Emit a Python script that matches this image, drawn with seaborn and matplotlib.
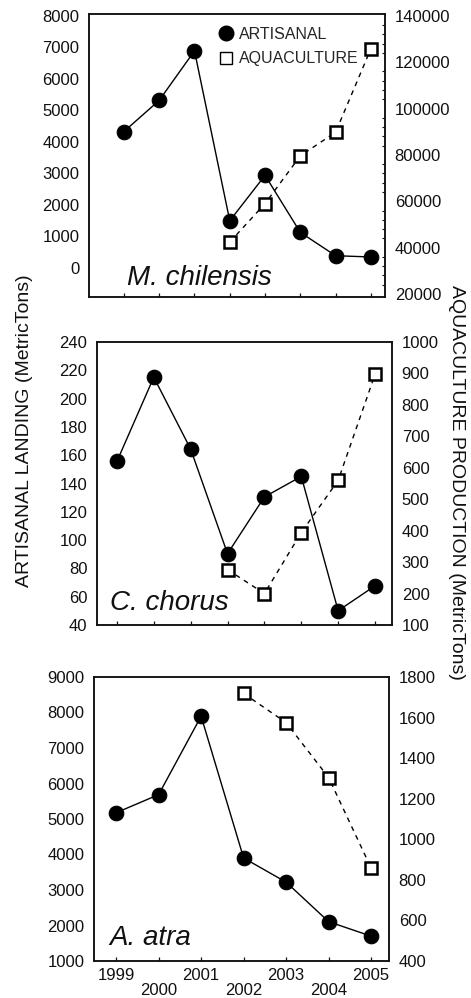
import matplotlib
matplotlib.use("Agg")
import matplotlib.pyplot as plt
import matplotlib.ticker as mticker
from matplotlib.lines import Line2D
import seaborn as sns
import pandas as pd

sns.set_theme(style="ticks")
plt.rcParams["font.family"] = ["Liberation Sans", "DejaVu Sans"]

# M. chilensis
mc_years      = [1998, 1999, 2000, 2001, 2002, 2003, 2004, 2005]
mc_artisanal  = [4330, 5320, 6890, 1500, 2940, 1130, 390, 350]
mc_aqua_years = [2001, 2002, 2003, 2004, 2005]
mc_aqua       = [42400, 59000, 79600, 89800, 125800]

# C. chorus
cc_years      = [1998, 1999, 2000, 2001, 2002, 2003, 2004, 2005]
cc_artisanal  = [155.6, 215.1, 164.3, 90.4, 130.5, 145, 50.1, 67.7]
cc_aqua_years = [2001, 2002, 2003, 2004, 2005]
cc_aqua       = [276, 200, 394, 560, 897]

# A. atra
aa_years      = [1999, 2000, 2001, 2002, 2003, 2004, 2005]
aa_artisanal  = [5176, 5686, 7895, 3901, 3221, 2107, 1700]
aa_aqua_years = [2002, 2003, 2004, 2005]
aa_aqua       = [1719, 1575, 1304, 858]

panels = [
    dict(name="M. chilensis", years=mc_years, art=mc_artisanal, ayears=mc_aqua_years, aqua=mc_aqua,
         pos=[89, 14, 385, 297], xlim=(1997.01, 2005.40),
         ylim=(-920, 8060), yticks=range(0, 8001, 1000),
         y2lim=(18700, 140800), y2ticks=range(20000, 140001, 20000),
         label_xy=(0.128, 0.042), legend=True, minor=True),
    dict(name="C. chorus", years=cc_years, art=cc_artisanal, ayears=cc_aqua_years, aqua=cc_aqua,
         pos=[97, 342, 392, 625], xlim=(1997.46, 2005.46),
         ylim=(40, 240), yticks=range(40, 241, 20),
         y2lim=(100, 1000), y2ticks=range(100, 1001, 100),
         label_xy=(0.044, 0.053), legend=False, minor=False),
    dict(name="A. atra", years=aa_years, art=aa_artisanal, ayears=aa_aqua_years, aqua=aa_aqua,
         pos=[94, 677, 389, 961], xlim=(1998.48, 2005.42),
         ylim=(1000, 9000), yticks=range(1000, 9001, 1000),
         y2lim=(400, 1800), y2ticks=range(400, 1801, 200),
         label_xy=(0.051, 0.056), legend=False, minor=False),
]

W, H = 471, 998
fig = plt.figure(figsize=(W / 100, H / 100), dpi=100)

for i, p in enumerate(panels):
    l, t, r, b = p["pos"]
    ax = fig.add_axes([l / W, 1 - b / H, (r - l) / W, (b - t) / H])
    ax2 = ax.twinx()

    art = pd.DataFrame({"year": p["years"], "value": p["art"]})
    aq = pd.DataFrame({"year": p["ayears"], "value": p["aqua"]})

    sns.lineplot(data=art, x="year", y="value", ax=ax, color="black", linewidth=1.0,
                 marker="o", markersize=10.5, markerfacecolor="black",
                 markeredgecolor="black", markeredgewidth=0.8)
    sns.lineplot(data=aq, x="year", y="value", ax=ax2, color="black", linewidth=1.0,
                 linestyle=(0, (3.5, 3.5)), marker="s", markersize=9,
                 markerfacecolor="white", markeredgecolor="black", markeredgewidth=1.8)

    ax.set_xlim(*p["xlim"])
    ax.set_ylim(*p["ylim"])
    ax2.set_ylim(*p["y2lim"])
    ax.set_xticks(p["years"])
    ax.set_yticks(list(p["yticks"]))
    ax2.set_yticks(list(p["y2ticks"]))
    ax.set_xlabel(""); ax.set_ylabel(""); ax2.set_ylabel("")

    ax.tick_params(axis="y", length=0, pad=7, labelsize=12, colors="#111111")
    ax.tick_params(axis="x", direction="in", length=3, width=0.9, labelsize=12, colors="#111111")
    ax2.tick_params(axis="y", length=0, pad=7, labelsize=12, colors="#111111")
    if p["minor"]:
        ax2.yaxis.set_minor_locator(mticker.AutoMinorLocator(5))
        ax2.tick_params(axis="y", which="minor", direction="in", length=2.5, width=0.8, color="#111111")

    for a in (ax, ax2):
        for s in a.spines.values():
            s.set_color("#111111")
            s.set_linewidth(1.1)
            s.set_visible(True)

    if i < 2:
        ax.set_xticklabels([])
    else:
        ax.set_xticklabels([str(y) for y in p["years"]])
        for j, tick in enumerate(ax.xaxis.get_major_ticks()):
            tick.set_pad(5 if j % 2 == 0 else 15.5)

    ax.text(p["label_xy"][0], p["label_xy"][1], p["name"], transform=ax.transAxes,
            fontsize=20, fontstyle="italic", va="baseline", ha="left", color="#111111")

    if p["legend"]:
        handles = [
            Line2D([], [], linestyle="none", marker="o", markersize=10.5, color="black"),
            Line2D([], [], linestyle="none", marker="s", markersize=8,
                   markerfacecolor="white", markeredgecolor="black", markeredgewidth=1.0),
        ]
        ax2.legend(handles, ["ARTISANAL", "AQUACULTURE"], loc="upper left",
                   bbox_to_anchor=(0.436, 0.955), frameon=False, fontsize=11.5,
                   handlelength=1.0, handletextpad=0.3, labelspacing=0.6,
                   borderpad=0, borderaxespad=0)

fig.text(25 / W, 1 - 431 / H, "ARTISANAL LANDING (MetricTons)", rotation=90,
         ha="center", va="center", fontsize=14, color="#111111")
fig.text(456 / W, 1 - 482 / H, "AQUACULTURE PRODUCTION (MetricTons)", rotation=270,
         ha="center", va="center", fontsize=14, color="#111111")

fig.savefig("out.png", dpi=100)
